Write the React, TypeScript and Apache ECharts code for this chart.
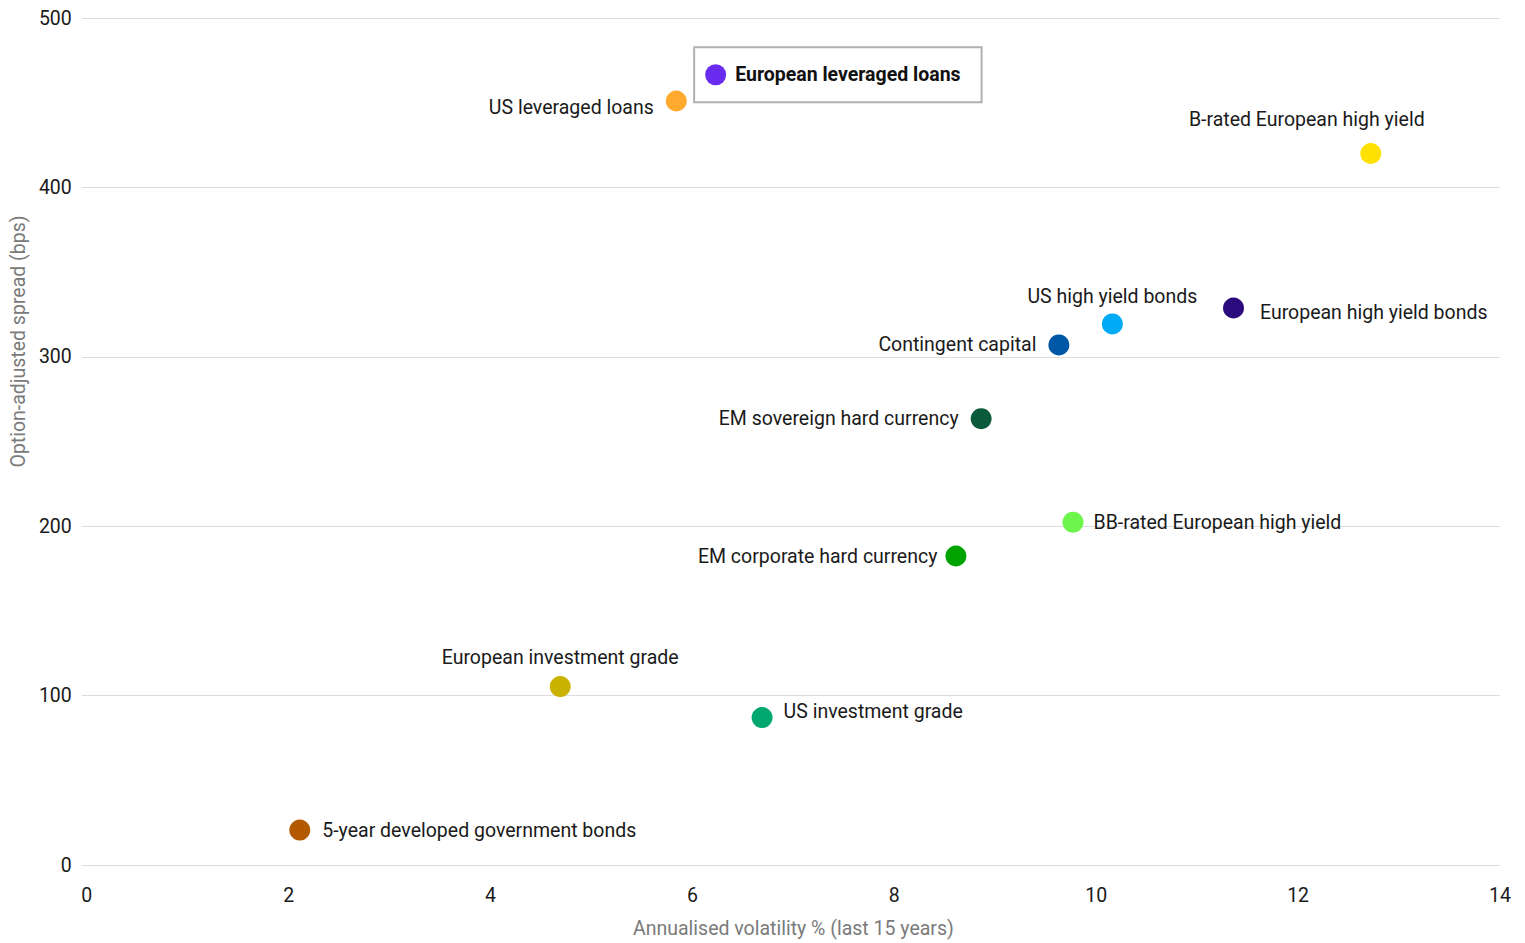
import React, { useEffect, useRef } from "react";
import * as echarts from "echarts";

const assetNames = [
  "5-year developed government bonds",
  "European investment grade",
  "US investment grade",
  "EM corporate hard currency",
  "BB-rated European high yield",
  "EM sovereign hard currency",
  "Contingent capital",
  "US high yield bonds",
  "European high yield bonds",
  "B-rated European high yield",
  "US leveraged loans",
  "European leveraged loans",
];
const volatility = [2.11, 4.69, 6.69, 8.61, 9.77, 8.86, 9.63, 10.16, 11.36, 12.72, 5.84, 6.22];
const spread = [20.6, 105.3, 87, 182.4, 202.4, 263.5, 307, 319.4, 328.8, 420, 451, 466.5];
const pointColors = [
  "#b35a00",
  "#c9b300",
  "#00a870",
  "#00a300",
  "#6cf54a",
  "#0b5a3c",
  "#0057a6",
  "#00aaf5",
  "#2b0a7d",
  "#ffe100",
  "#ffa92e",
  "#6a2bf0",
];
const highlighted = "European leveraged loans";

const FONT = "Roboto, sans-serif";
const FS = 19.5;

const labelLayout: Record<string, any> = {
  "5-year developed government bonds": { position: "right", distance: 12 },
  "European investment grade": { position: "top", distance: 9 },
  "US investment grade": { position: "right", distance: 11, offset: [0, -6] },
  "EM corporate hard currency": { position: "left", distance: 8 },
  "BB-rated European high yield": { position: "right", distance: 10 },
  "EM sovereign hard currency": { position: "left", distance: 12 },
  "Contingent capital": { position: "left", distance: 12 },
  "US high yield bonds": { position: "top", distance: 7 },
  "European high yield bonds": { position: "right", distance: 16, offset: [0, 4] },
  "B-rated European high yield": { position: "top", distance: 14, offset: [-64, 0] },
  "US leveraged loans": { position: "left", distance: 12, offset: [0, 6] },
};

export default function App() {
  const ref = useRef<HTMLDivElement>(null);
  useEffect(() => {
    const chart = echarts.init(ref.current!, null, { renderer: "svg" });
    const data = assetNames.map((name, i) => {
      const isHi = name === highlighted;
      const label = isHi
        ? {
            show: true,
            position: [-9, 10.5],
            align: "left",
            verticalAlign: "middle",
            formatter: "{dot|}{txt|" + name + "}",
            backgroundColor: "#fff",
            borderColor: "#b0b0b0",
            borderWidth: 2,
            padding: [16, 20, 16, 10],
            rich: {
              dot: { width: 21, height: 21, borderRadius: 10.5, backgroundColor: pointColors[i] },
              txt: { fontFamily: FONT, fontWeight: "bold", fontSize: FS, color: "#111", padding: [0, 0, 0, 9] },
            },
          }
        : {
            show: true,
            formatter: name,
            fontFamily: FONT,
            fontSize: FS,
            color: "#1a1a1a",
            ...labelLayout[name],
          };
      return {
        name,
        value: [volatility[i], spread[i]],
        itemStyle: { color: pointColors[i], opacity: 1 },
        label,
        z: isHi ? 10 : 2,
      };
    });
    chart.setOption({
      animation: false,
      grid: { left: 85, right: 25, top: 18, bottom: 75 },
      xAxis: {
        type: "value",
        min: 0,
        max: 14,
        interval: 2,
        name: "Annualised volatility % (last 15 years)",
        nameLocation: "middle",
        nameGap: 53,
        nameTextStyle: { fontFamily: FONT, fontSize: FS, color: "#7a7a7a" },
        axisLine: { show: false },
        axisTick: { show: false },
        splitLine: { show: false },
        axisLabel: { fontFamily: FONT, fontSize: FS, color: "#1a1a1a", margin: 20 },
      },
      yAxis: {
        type: "value",
        min: 0,
        max: 500,
        interval: 100,
        name: "Option-adjusted spread (bps)",
        nameLocation: "middle",
        nameGap: 58,
        nameTextStyle: { fontFamily: FONT, fontSize: FS, color: "#7a7a7a", padding: [0, 0, 0, 200] },
        axisLine: { show: false },
        axisTick: { show: true, length: 5, lineStyle: { color: "#dcdcdc", width: 1 } },
        splitLine: { show: true, lineStyle: { color: "#dcdcdc", width: 1 } },
        axisLabel: { fontFamily: FONT, fontSize: FS, color: "#1a1a1a", margin: 15 },
      },
      series: [
        {
          type: "scatter",
          symbol: "circle",
          symbolSize: 21,
          itemStyle: { opacity: 1 },
          data,
        },
      ],
    });
    return () => chart.dispose();
  }, []);
  return <div ref={ref} style={{ position: "fixed", left: 0, top: 0, width: 1525, height: 943, background: "#fff" }} />;
}
